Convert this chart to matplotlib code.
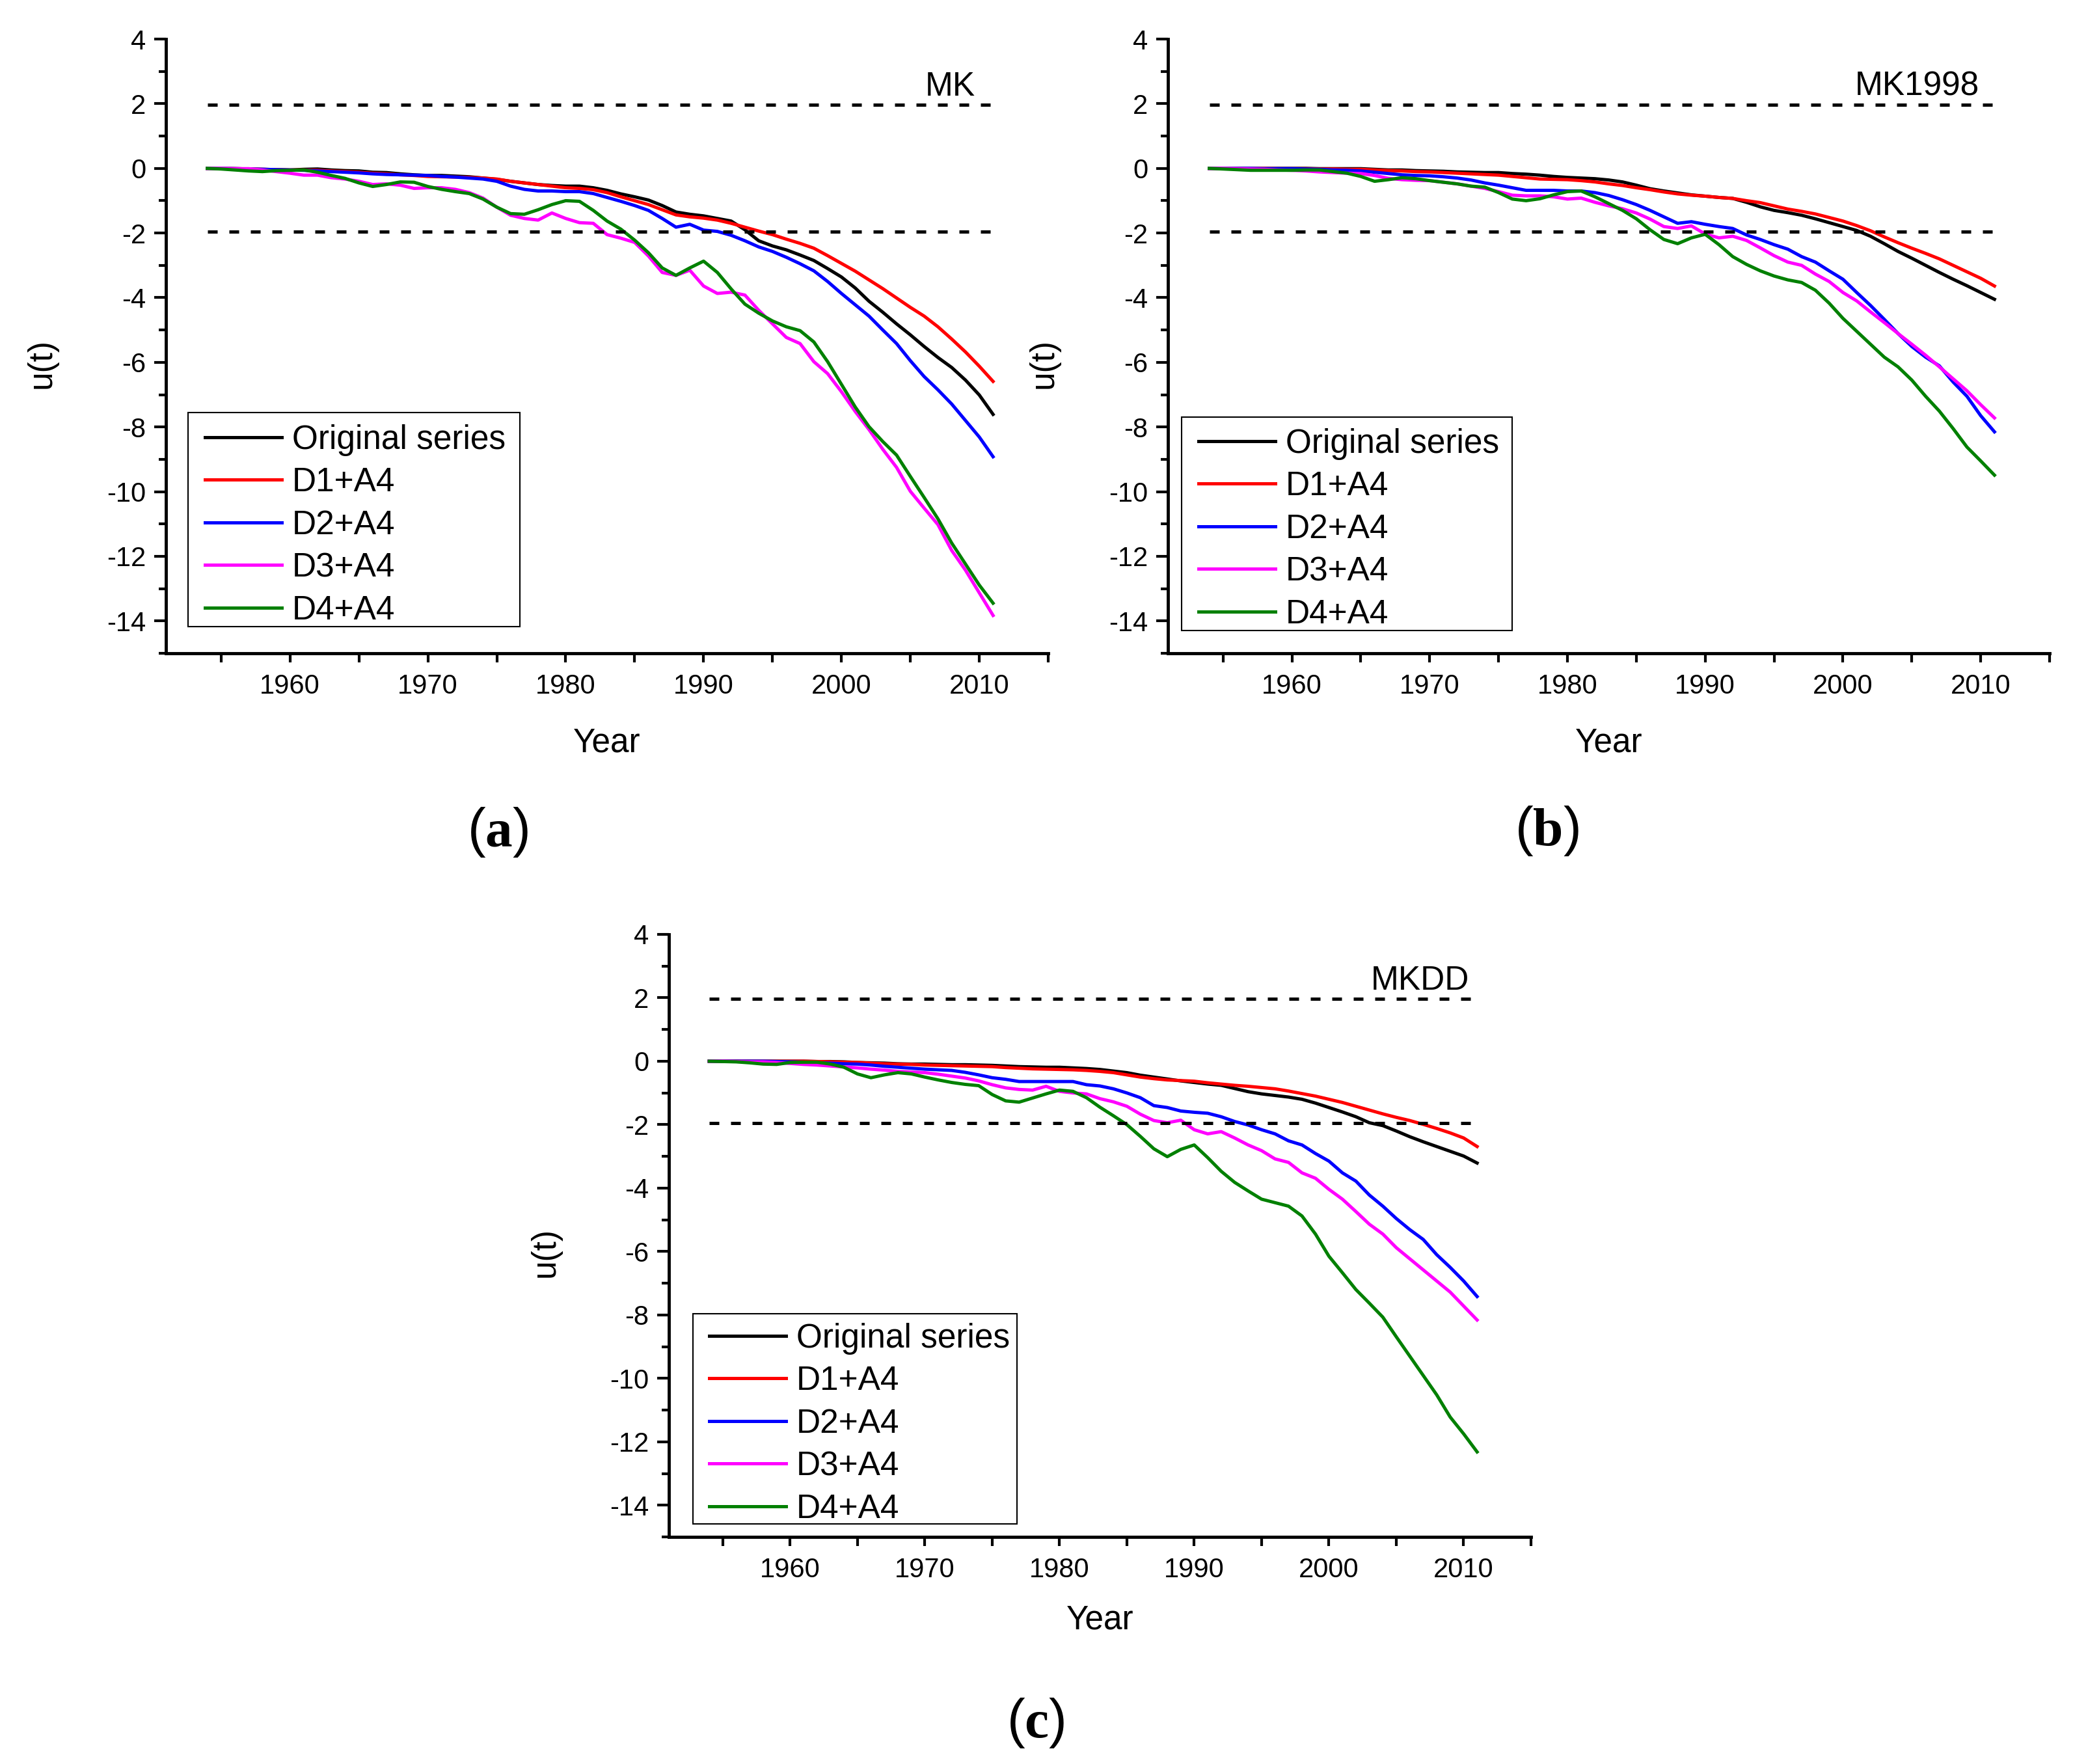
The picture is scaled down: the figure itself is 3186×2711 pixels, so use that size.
import matplotlib
matplotlib.use("Agg")
import matplotlib.pyplot as plt
from matplotlib.ticker import MultipleLocator
from matplotlib.patches import Rectangle

plt.rcParams['font.family'] = ['Liberation Sans', 'DejaVu Sans']
plt.rcParams['axes.unicode_minus'] = False
plt.rcParams['mathtext.fontset'] = 'custom'
plt.rcParams['mathtext.rm'] = 'Liberation Serif'
plt.rcParams['mathtext.bf'] = 'Liberation Serif:bold'

# ---------------- data ----------------
YEARS = list(range(1954, 2012))
SERIES_LABELS = ["Original series", "D1+A4", "D2+A4", "D3+A4", "D4+A4"]
SERIES_COLORS = ["#000000", "#FF0000", "#0000FF", "#FF00FF", "#008000"]
PANEL_TITLES = ["MK", "MK1998", "MKDD"]
PANEL_TAGS = ["a", "b", "c"]
CONF_LEVELS = [1.96, -1.96]

# Panel (a) MK
MK_ORIG = [0, 0, -0.01, -0.02, -0.03, -0.04, -0.05, -0.03, -0.02, -0.05,
           -0.07, -0.08, -0.12, -0.13, -0.17, -0.2, -0.22, -0.22, -0.24, -0.26,
           -0.3, -0.34, -0.4, -0.45, -0.5, -0.53, -0.55, -0.55, -0.6, -0.68,
           -0.79, -0.88, -0.98, -1.15, -1.35, -1.42, -1.47, -1.55, -1.63, -1.9,
           -2.24, -2.4, -2.52, -2.68, -2.85, -3.1, -3.36, -3.7, -4.11, -4.45,
           -4.81, -5.15, -5.51, -5.85, -6.16, -6.55, -7.01, -7.61]
MK_D1 = [0, 0, -0.01, -0.02, -0.03, -0.04, -0.05, -0.05, -0.06, -0.08,
         -0.1, -0.12, -0.15, -0.17, -0.2, -0.22, -0.25, -0.26, -0.27, -0.28,
         -0.3, -0.33, -0.4, -0.45, -0.5, -0.55, -0.6, -0.62, -0.66, -0.75,
         -0.88, -1.0, -1.12, -1.28, -1.44, -1.5, -1.54, -1.6, -1.7, -1.82,
         -1.94, -2.05, -2.19, -2.32, -2.47, -2.7, -2.94, -3.18, -3.45, -3.72,
         -4.01, -4.3, -4.57, -4.9, -5.28, -5.68, -6.12, -6.59]
MK_D2 = [0, 0, -0.01, -0.02, -0.03, -0.04, -0.05, -0.06, -0.08, -0.1,
         -0.12, -0.14, -0.17, -0.19, -0.2, -0.21, -0.22, -0.25, -0.27, -0.3,
         -0.33, -0.4, -0.55, -0.65, -0.7, -0.7, -0.72, -0.72, -0.78, -0.9,
         -1.02, -1.15, -1.3, -1.55, -1.82, -1.73, -1.91, -1.95, -2.07, -2.24,
         -2.43, -2.57, -2.75, -2.95, -3.17, -3.5, -3.87, -4.22, -4.57, -5.0,
         -5.42, -5.95, -6.44, -6.85, -7.29, -7.8, -8.31, -8.92]
MK_D3 = [0, 0, -0.01, -0.01, -0.05, -0.1, -0.15, -0.21, -0.21, -0.29,
         -0.33, -0.4, -0.5, -0.48, -0.52, -0.62, -0.6, -0.6, -0.65, -0.75,
         -0.92, -1.2, -1.45, -1.55, -1.6, -1.38, -1.55, -1.68, -1.7, -2.05,
         -2.16, -2.29, -2.71, -3.22, -3.31, -3.15, -3.64, -3.87, -3.83, -3.92,
         -4.39, -4.81, -5.23, -5.42, -5.98, -6.35, -6.91, -7.52, -8.08, -8.69,
         -9.25, -9.99, -10.51, -11.02, -11.82, -12.43, -13.13, -13.83]
MK_D4 = [0, -0.02, -0.05, -0.08, -0.1, -0.07, -0.06, -0.05, -0.12, -0.22,
         -0.31, -0.45, -0.56, -0.5, -0.42, -0.43, -0.56, -0.65, -0.72, -0.78,
         -0.95, -1.2, -1.4, -1.42, -1.28, -1.12, -1.0, -1.02, -1.3, -1.63,
         -1.88, -2.22, -2.61, -3.08, -3.31, -3.08, -2.87, -3.22, -3.73, -4.2,
         -4.48, -4.72, -4.9, -5.02, -5.37, -5.98, -6.68, -7.38, -7.99, -8.45,
         -8.87, -9.53, -10.18, -10.84, -11.59, -12.24, -12.89, -13.45]

# Panel (b) MK1998
MK98_ORIG = [0, 0, 0, 0, 0, 0, 0, 0, -0.01, -0.01,
             -0.01, -0.01, -0.03, -0.05, -0.05, -0.07, -0.08, -0.09, -0.11, -0.12,
             -0.13, -0.13, -0.16, -0.18, -0.21, -0.25, -0.28, -0.3, -0.32, -0.36,
             -0.42, -0.52, -0.63, -0.7, -0.76, -0.82, -0.86, -0.9, -0.93, -1.05,
             -1.19, -1.3, -1.37, -1.45, -1.56, -1.68, -1.8, -1.92, -2.1, -2.33,
             -2.57, -2.78, -3.0, -3.22, -3.43, -3.63, -3.84, -4.05]
MK98_D1 = [0, 0, 0, 0, 0, -0.01, -0.01, -0.01, -0.02, -0.02,
           -0.03, -0.03, -0.05, -0.07, -0.08, -0.1, -0.11, -0.13, -0.15, -0.17,
           -0.19, -0.21, -0.25, -0.29, -0.33, -0.34, -0.35, -0.38, -0.42, -0.48,
           -0.53, -0.6, -0.66, -0.73, -0.79, -0.83, -0.86, -0.9, -0.93, -1.0,
           -1.06, -1.16, -1.26, -1.33, -1.41, -1.52, -1.63, -1.77, -1.93, -2.12,
           -2.3, -2.47, -2.63, -2.8, -3.0, -3.2, -3.4, -3.64]
MK98_D2 = [0, 0, 0, 0, -0.01, -0.01, -0.01, -0.02, -0.03, -0.05,
           -0.06, -0.08, -0.12, -0.16, -0.2, -0.22, -0.23, -0.26, -0.3, -0.36,
           -0.45, -0.52, -0.6, -0.68, -0.68, -0.68, -0.7, -0.7, -0.75, -0.84,
           -0.97, -1.12, -1.3, -1.5, -1.7, -1.65, -1.73, -1.8, -1.86, -2.06,
           -2.2, -2.36, -2.5, -2.73, -2.9, -3.17, -3.43, -3.84, -4.24, -4.67,
           -5.11, -5.51, -5.84, -6.11, -6.61, -7.05, -7.65, -8.15]
MK98_D3 = [0, 0, -0.01, -0.02, -0.03, -0.05, -0.06, -0.08, -0.11, -0.13,
           -0.15, -0.16, -0.22, -0.31, -0.35, -0.37, -0.38, -0.43, -0.48, -0.55,
           -0.62, -0.72, -0.83, -0.85, -0.85, -0.88, -0.95, -0.92, -1.05, -1.16,
           -1.25, -1.38, -1.57, -1.8, -1.86, -1.78, -2.03, -2.15, -2.1, -2.23,
           -2.46, -2.7, -2.9, -3.0, -3.27, -3.5, -3.84, -4.1, -4.44, -4.77,
           -5.11, -5.44, -5.78, -6.14, -6.51, -6.88, -7.31, -7.72]
MK98_D4 = [0, -0.02, -0.04, -0.06, -0.06, -0.06, -0.06, -0.05, -0.05, -0.1,
           -0.15, -0.25, -0.4, -0.35, -0.29, -0.32, -0.38, -0.43, -0.48, -0.55,
           -0.58, -0.75, -0.95, -1.0, -0.94, -0.82, -0.72, -0.7, -0.88, -1.09,
           -1.3, -1.56, -1.9, -2.2, -2.33, -2.15, -2.04, -2.36, -2.73, -2.97,
           -3.17, -3.33, -3.45, -3.53, -3.77, -4.17, -4.64, -5.04, -5.44, -5.84,
           -6.14, -6.55, -7.05, -7.51, -8.05, -8.62, -9.05, -9.49]

# Panel (c) MKDD
MKDD_ORIG = [0, 0, 0, 0, 0, 0, 0, 0, -0.01, -0.01,
             -0.02, -0.04, -0.05, -0.06, -0.08, -0.09, -0.09, -0.1, -0.11, -0.11,
             -0.12, -0.13, -0.15, -0.17, -0.18, -0.19, -0.19, -0.21, -0.23, -0.26,
             -0.31, -0.36, -0.44, -0.5, -0.56, -0.62, -0.67, -0.72, -0.76, -0.86,
             -0.96, -1.03, -1.08, -1.13, -1.2, -1.32, -1.46, -1.6, -1.75, -1.94,
             -2.03, -2.2, -2.38, -2.54, -2.69, -2.84, -2.99, -3.21]
MKDD_D1 = [0, 0, 0, 0, 0, 0, 0, 0, -0.01, -0.02,
           -0.03, -0.04, -0.06, -0.08, -0.09, -0.1, -0.12, -0.13, -0.14, -0.15,
           -0.16, -0.17, -0.2, -0.22, -0.24, -0.25, -0.26, -0.27, -0.29, -0.32,
           -0.36, -0.43, -0.5, -0.55, -0.59, -0.61, -0.63, -0.68, -0.72, -0.76,
           -0.79, -0.83, -0.87, -0.94, -1.02, -1.1, -1.2, -1.3, -1.42, -1.54,
           -1.66, -1.77, -1.87, -1.99, -2.12, -2.26, -2.42, -2.69]
MKDD_D2 = [0, 0, 0, 0, 0, -0.01, -0.02, -0.03, -0.05, -0.06,
           -0.08, -0.09, -0.12, -0.16, -0.19, -0.22, -0.25, -0.27, -0.29, -0.35,
           -0.43, -0.52, -0.57, -0.64, -0.64, -0.64, -0.64, -0.64, -0.74, -0.78,
           -0.87, -1.0, -1.15, -1.4, -1.46, -1.57, -1.61, -1.64, -1.75, -1.9,
           -2.01, -2.16, -2.29, -2.51, -2.64, -2.91, -3.15, -3.52, -3.78, -4.22,
           -4.57, -4.96, -5.31, -5.62, -6.1, -6.5, -6.93, -7.42]
MKDD_D3 = [0, 0, -0.01, -0.02, -0.02, -0.04, -0.07, -0.1, -0.12, -0.15,
           -0.18, -0.21, -0.25, -0.28, -0.32, -0.34, -0.36, -0.41, -0.47, -0.53,
           -0.62, -0.74, -0.84, -0.89, -0.91, -0.79, -0.95, -1.0, -1.03, -1.18,
           -1.28, -1.42, -1.67, -1.87, -1.94, -1.86, -2.16, -2.29, -2.22, -2.42,
           -2.64, -2.82, -3.08, -3.19, -3.52, -3.69, -4.04, -4.35, -4.74, -5.14,
           -5.45, -5.88, -6.23, -6.58, -6.93, -7.28, -7.72, -8.16]
MKDD_D4 = [0, -0.01, -0.02, -0.05, -0.09, -0.1, -0.04, -0.03, -0.03, -0.09,
           -0.19, -0.4, -0.52, -0.43, -0.36, -0.4, -0.5, -0.59, -0.67, -0.73,
           -0.77, -1.05, -1.25, -1.29, -1.16, -1.03, -0.91, -0.95, -1.15, -1.45,
           -1.72, -2.0, -2.37, -2.76, -3.01, -2.78, -2.64, -3.04, -3.47, -3.82,
           -4.09, -4.35, -4.46, -4.57, -4.88, -5.45, -6.15, -6.67, -7.2, -7.63,
           -8.07, -8.69, -9.3, -9.91, -10.52, -11.22, -11.75, -12.32]

PANEL_DATA = [
    [MK_ORIG, MK_D1, MK_D2, MK_D3, MK_D4],
    [MK98_ORIG, MK98_D1, MK98_D2, MK98_D3, MK98_D4],
    [MKDD_ORIG, MKDD_D1, MKDD_D2, MKDD_D3, MKDD_D4],
]

# ---------------- layout ----------------
W, H = 3186, 2711
fig = plt.figure(figsize=(W / 100, H / 100), dpi=100)

def px_rect(x0, y0, x1, y1):
    return [x0 / W, 1 - y1 / H, (x1 - x0) / W, (y1 - y0) / H]

AX_RECTS = [px_rect(255, 60, 1611, 1004),
            px_rect(1795, 60, 3150, 1004),
            px_rect(1028, 1436, 2353, 2362)]
LEG_BOXES = [(289, 634, 799, 963), (1816, 641, 2324, 969), (1065, 2019, 1563, 2342)]
LEG_ANCHORS = [(315, 652), (1842, 658), (1090, 2033)]
TAG_POS = [(765 / W, 1 - 1279 / H), (2377 / W, 1 - 1277 / H), (1592 / W, 1 - 2648 / H)]
TITLE_X = [2009.7, 2009.9, 2010.4]
XLABEL_Y = [-0.120, -0.120, -0.112]
YLABEL_X = [-0.123, -0.123, -0.125]

for i in range(3):
    ax = fig.add_axes(AX_RECTS[i])
    for j, ys in enumerate(PANEL_DATA[i]):
        ax.plot(YEARS, ys, color=SERIES_COLORS[j], lw=3.6, label=SERIES_LABELS[j],
                solid_joinstyle='round')
    for lev in CONF_LEVELS:
        ax.plot([YEARS[0], YEARS[-1]], [lev, lev], color='black', lw=3.6,
                linestyle=(0, (3.0, 3.6)))
    ax.text(TITLE_X[i], 2.25, PANEL_TITLES[i], ha='right', va='baseline', fontsize=37)

    ax.set_xlim(1951, 2015)
    ax.set_ylim(-15, 4)
    ax.xaxis.set_minor_locator(MultipleLocator(5))
    ax.yaxis.set_minor_locator(MultipleLocator(1))
    ax.set_xticks([1960, 1970, 1980, 1990, 2000, 2010])
    ax.set_xticklabels(['1960', '1970', '1980', '1990', '2000', '2010'])
    ax.set_yticks([4, 2, 0, -2, -4, -6, -8, -10, -12, -14])
    ax.set_yticklabels(['4', '2', '0', '-2', '-4', '-6', '-8', '-10', '-12', '-14'])
    for s in ['top', 'right']:
        ax.spines[s].set_visible(False)
    for s in ['left', 'bottom']:
        ax.spines[s].set_linewidth(3.5)
    ax.tick_params(axis='y', which='major', direction='out', length=13, width=3,
                   labelsize=30, pad=9)
    ax.tick_params(axis='y', which='minor', direction='out', length=8, width=3)
    ax.tick_params(axis='x', which='major', direction='out', length=10, width=3,
                   labelsize=30, pad=12)
    ax.tick_params(axis='x', which='minor', direction='out', length=10, width=3)

    ax.set_xlabel('Year', fontsize=37)
    ax.set_ylabel('u(t)', fontsize=37)
    ax.xaxis.set_label_coords(0.5, XLABEL_Y[i])
    ax.yaxis.set_label_coords(YLABEL_X[i], 0.472)

    # legend frame (drawn separately so the entries can be placed freely)
    bx0, by0, bx1, by1 = LEG_BOXES[i]
    ax.add_patch(Rectangle((bx0 / W, 1 - by1 / H), (bx1 - bx0) / W, (by1 - by0) / H,
                           transform=fig.transFigure, facecolor='white',
                           edgecolor='black', linewidth=1.5, zorder=4.5,
                           clip_on=False))
    ax_anchor = (LEG_ANCHORS[i][0] / W, 1 - LEG_ANCHORS[i][1] / H)
    leg = ax.legend(loc='upper left', bbox_to_anchor=ax_anchor,
                    bbox_transform=fig.transFigure, borderaxespad=0,
                    fontsize=37, handlelength=2.3, handletextpad=0.3,
                    labelspacing=0.32, borderpad=0.0, frameon=False)
    leg.set_zorder(6)
    for ln in leg.get_lines():
        ln.set_linewidth(3.6)

    fig.text(TAG_POS[i][0], TAG_POS[i][1],
             r'$\mathregular{(}\mathbf{' + PANEL_TAGS[i] + r'}\mathregular{)}$',
             ha='center', va='center', fontsize=60)

fig.savefig('out.png', dpi=100)
